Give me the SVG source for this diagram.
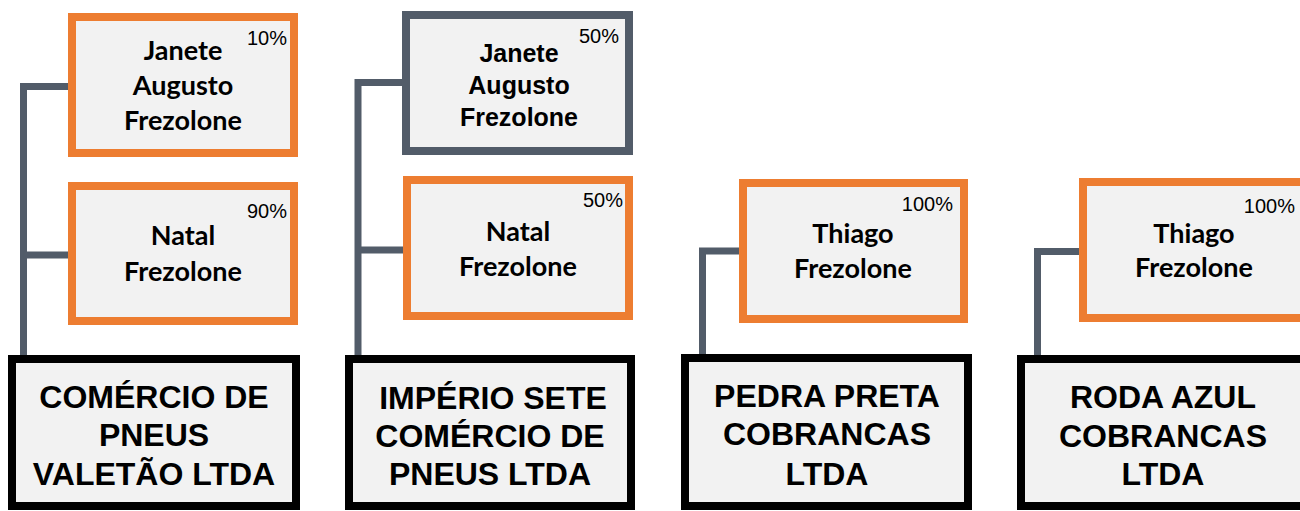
<svg xmlns="http://www.w3.org/2000/svg" width="1300" height="511" viewBox="0 0 1300 511">
<style>
.bg{fill:#ffffff}
.own{fill:#f2f2f2;stroke:#ed7d31;stroke-width:8}
.owng{fill:#f2f2f2;stroke:#525c69;stroke-width:8}
.co{fill:#f2f2f2;stroke:#000000;stroke-width:8}
.name{font-family:Lato,"Open Sans",sans-serif;font-weight:bold;font-size:27px;fill:#000;text-anchor:middle}
.namea{font-family:"Liberation Sans",Arial,sans-serif;font-weight:bold;font-size:25px;fill:#000;text-anchor:middle}
.pct{font-family:"Liberation Sans",Arial,sans-serif;font-size:20px;fill:#000;text-anchor:end}
.cname{font-family:"Liberation Sans",Arial,sans-serif;font-weight:bold;font-size:32px;fill:#000;text-anchor:middle}
.conn{fill:none;stroke:#525c69;stroke-width:7;stroke-linejoin:miter;stroke-linecap:butt}
</style>
<rect class="bg" x="0" y="0" width="1300" height="511"/>
<g id="connectors">
<path class="conn" d="M23.5,355 V86.5 H70"/>
<path class="conn" d="M23.5,255 H72"/>
<path class="conn" d="M358,355 V82.5 H404"/>
<path class="conn" d="M358,250 H405"/>
<path class="conn" d="M702.5,354 V251 H741"/>
<path class="conn" d="M1037.5,355 V251.5 H1081"/>
</g>
<g id="c1-janete">
<rect class="own" x="72" y="17" width="222" height="136"/>
<text class="pct" x="287" y="45">10%</text>
<text class="name" x="183" y="60">Janete</text>
<text class="name" x="183" y="95">Augusto</text>
<text class="name" x="183" y="130">Frezolone</text>
</g>
<g id="c1-natal">
<rect class="own" x="72" y="186" width="222" height="135"/>
<text class="pct" x="287" y="218">90%</text>
<text class="name" x="183" y="245">Natal</text>
<text class="name" x="183" y="281">Frezolone</text>
</g>
<g id="c1-company">
<rect class="co" x="12" y="359" width="284" height="147"/>
<text class="cname" x="154" y="408">COMÉRCIO DE</text>
<text class="cname" x="154" y="446">PNEUS</text>
<text class="cname" x="154" y="485">VALETÃO LTDA</text>
</g>
<g id="c2-janete">
<rect class="owng" x="406" y="15" width="223" height="136"/>
<text class="pct" x="619" y="43">50%</text>
<text class="namea" x="519" y="62">Janete</text>
<text class="namea" x="519" y="94">Augusto</text>
<text class="namea" x="519" y="126">Frezolone</text>
</g>
<g id="c2-natal">
<rect class="own" x="407" y="180" width="222" height="136"/>
<text class="pct" x="623" y="207">50%</text>
<text class="name" x="518" y="241">Natal</text>
<text class="name" x="518" y="276">Frezolone</text>
</g>
<g id="c2-company">
<rect class="co" x="349" y="359" width="282" height="147"/>
<text class="cname" x="493" y="409">IMPÉRIO SETE</text>
<text class="cname" x="490" y="447">COMÉRCIO DE</text>
<text class="cname" x="490" y="485">PNEUS LTDA</text>
</g>
<g id="c3-thiago">
<rect class="own" x="743" y="183" width="221" height="136"/>
<text class="pct" x="953" y="211">100%</text>
<text class="name" x="853" y="243">Thiago</text>
<text class="name" x="853" y="278">Frezolone</text>
</g>
<g id="c3-company">
<rect class="co" x="685" y="358" width="283" height="148"/>
<text class="cname" x="827" y="407">PEDRA PRETA</text>
<text class="cname" x="827" y="445">COBRANCAS</text>
<text class="cname" x="827" y="485">LTDA</text>
</g>
<g id="c4-thiago">
<rect class="own" x="1083" y="182" width="230" height="136"/>
<text class="pct" x="1295" y="213">100%</text>
<text class="name" x="1194" y="243">Thiago</text>
<text class="name" x="1194" y="277">Frezolone</text>
</g>
<g id="c4-company">
<rect class="co" x="1021" y="359" width="300" height="147"/>
<text class="cname" x="1163" y="408">RODA AZUL</text>
<text class="cname" x="1163" y="447">COBRANCAS</text>
<text class="cname" x="1163" y="485">LTDA</text>
</g>
</svg>
